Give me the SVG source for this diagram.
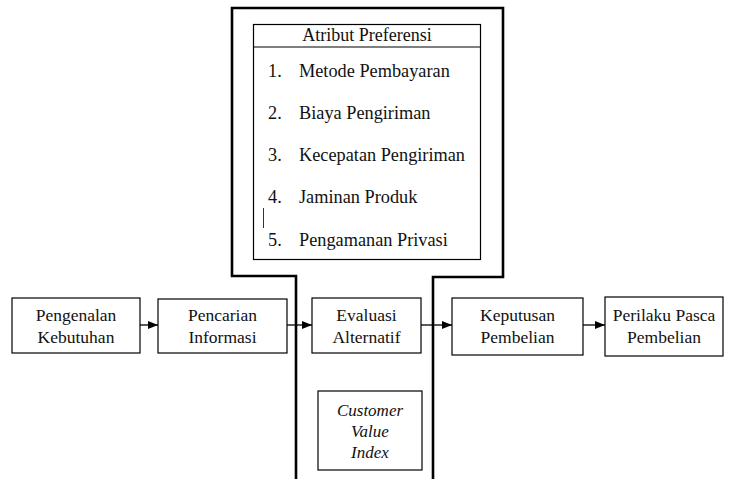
<svg xmlns="http://www.w3.org/2000/svg" width="729" height="479" viewBox="0 0 729 479" font-family="'Liberation Serif', serif">
<defs>
<style>
text{font-family:'Liberation Serif',serif;font-size:17.5px;fill:#111}
.c{text-anchor:middle}
.li{font-size:18.3px}
.it{font-style:italic;font-size:17px}
.box{fill:#fff;stroke:#000;stroke-width:1.2}
.edge{stroke:#000;stroke-width:1.3;fill:none}
.frame{stroke:#000;stroke-width:2.6;fill:none}
</style>
<marker id="ah" markerWidth="10" markerHeight="8" refX="10" refY="4" orient="auto" markerUnits="userSpaceOnUse">
<path d="M0,0 L10,4 L0,8 z" fill="#000"/>
</marker>
</defs>
<rect width="729" height="479" fill="#fff"/>
<g id="frame">
<path class="frame" d="M296,479 V276 H232 V8 H503 V277 H433 V479"/>
</g>
<g id="atribut">
<rect class="box" x="253.5" y="24.5" width="227" height="235"/>
<line x1="253.5" y1="47" x2="480.5" y2="47" stroke="#000" stroke-width="1.2"/>
<text class="c" x="367" y="41" style="font-size:18px">Atribut Preferensi</text>
<text class="li" x="268" y="77">1.</text><text class="li" x="299" y="77">Metode Pembayaran</text>
<text class="li" x="268" y="119">2.</text><text class="li" x="299" y="119">Biaya Pengiriman</text>
<text class="li" x="268" y="161">3.</text><text class="li" x="299" y="161">Kecepatan Pengiriman</text>
<text class="li" x="268" y="203">4.</text><text class="li" x="299" y="203">Jaminan Produk</text>
<line x1="263.5" y1="208" x2="263.5" y2="228" stroke="#333" stroke-width="1"/>
<text class="li" x="268" y="246">5.</text><text class="li" x="299" y="246">Pengamanan Privasi</text>
</g>
<g id="n1">
<rect class="box" x="12" y="298" width="128" height="55"/>
<text class="c" x="76" y="321">Pengenalan</text>
<text class="c" x="76" y="343">Kebutuhan</text>
</g>
<g id="n2">
<rect class="box" x="158" y="299" width="129" height="54"/>
<text class="c" x="222.5" y="321">Pencarian</text>
<text class="c" x="222.5" y="343">Informasi</text>
</g>
<g id="n3">
<rect class="box" x="312" y="298" width="109" height="55"/>
<text class="c" x="366.5" y="321">Evaluasi</text>
<text class="c" x="366.5" y="343">Alternatif</text>
</g>
<g id="n4">
<rect class="box" x="452" y="298" width="131" height="57"/>
<text class="c" x="517.5" y="321">Keputusan</text>
<text class="c" x="517.5" y="343">Pembelian</text>
</g>
<g id="n5">
<rect class="box" x="605" y="297" width="118" height="59"/>
<text class="c" x="664" y="321">Perilaku Pasca</text>
<text class="c" x="664" y="343">Pembelian</text>
</g>
<g id="cvi">
<rect class="box" x="318" y="391" width="104" height="79"/>
<text class="c it" x="370" y="416">Customer</text>
<text class="c it" x="370" y="437">Value</text>
<text class="c it" x="370" y="458">Index</text>
</g>
<g id="connectors">
<line class="edge" x1="140" y1="325" x2="158" y2="325" marker-end="url(#ah)"/>
<line class="edge" x1="287" y1="325" x2="312" y2="325" marker-end="url(#ah)"/>
<line class="edge" x1="421" y1="325" x2="452" y2="325" marker-end="url(#ah)"/>
<line class="edge" x1="583" y1="325" x2="605" y2="325" marker-end="url(#ah)"/>
</g>
</svg>
